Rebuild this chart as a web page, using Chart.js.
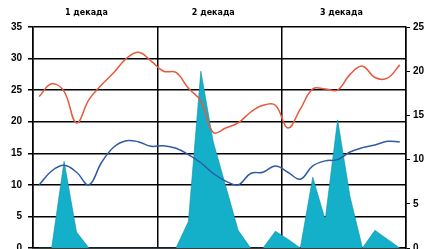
<!DOCTYPE html>
<html>
<head>
<meta charset="utf-8">
<script src="https://cdn.jsdelivr.net/npm/chart.js@4/dist/chart.umd.min.js"></script>
<style>
    html, body { margin: 0; padding: 0; background: #fff; overflow: hidden; }
    #wrap { width: 426px; height: 260px; position: relative; }
</style>
</head>
<body>
<div id="wrap"><canvas id="mainChart"></canvas></div>
<script>
// Data
const days = [1, 2, 3, 4, 5, 6, 7, 8, 9, 10, 11, 12, 13, 14, 15,
              16, 17, 18, 19, 20, 21, 22, 23, 24, 25, 26, 27, 28, 29, 30];
const redSeries = [24.0, 26.0, 24.8, 19.8, 23.5, 25.8, 27.8, 30.0, 31.0, 29.6,
                   28.0, 27.8, 25.3, 23.3, 18.3, 19.0, 19.8, 21.5, 22.6, 22.6,
                   19.0, 22.0, 25.2, 25.2, 25.0, 27.5, 28.8, 27.0, 26.9, 29.0];
const blueSeries = [10.0, 12.2, 13.1, 12.0, 10.0, 13.5, 16.0, 17.0, 16.8, 16.1,
                    16.2, 15.8, 14.8, 13.5, 11.8, 10.6, 10.0, 11.8, 12.0, 13.0,
                    12.0, 10.9, 13.0, 13.8, 14.0, 15.2, 15.9, 16.3, 16.9, 16.8];
const areaSeries = [0, 0, 9.8, 1.8, 0, 0, 0, 0, 0, 0,
                    0, 0, 3.0, 20.0, 12.0, 7.0, 2.0, 0, 0, 1.9,
                    1.0, 0, 8.0, 3.2, 14.5, 5.8, 0, 2.0, 1.0, 0];
const decadeLabels = ['1 декада', '2 декада', '3 декада'];
const decadeLabelPos = [4.8, 15.0, 25.3];
const decadeBounds = [0.5, 10.5, 20.5, 30.5];

const tickFont = { family: 'Liberation Sans, Arial, sans-serif', size: 10, weight: 'bold' };

function toPoints(values) {
    return days.map((d, i) => ({ x: d, y: values[i] }));
}

new Chart(document.getElementById('mainChart'), {
    type: 'line',
    data: {
        datasets: [
            {
                label: 'red',
                data: toPoints(redSeries),
                borderColor: '#e8583c',
                borderWidth: 1.5,
                pointRadius: 0,
                tension: 0.4,
                fill: false,
                yAxisID: 'y',
                order: 1
            },
            {
                label: 'blue',
                data: toPoints(blueSeries),
                borderColor: '#2f5aa6',
                borderWidth: 1.5,
                pointRadius: 0,
                tension: 0.4,
                fill: false,
                yAxisID: 'y',
                order: 2
            },
            {
                label: 'area',
                data: toPoints(areaSeries),
                borderColor: '#0b8fa6',
                backgroundColor: '#14b0c9',
                borderWidth: 0.6,
                pointRadius: 0,
                tension: 0,
                fill: 'origin',
                yAxisID: 'y2',
                order: 3
            }
        ]
    },
    options: {
        responsive: true,
        maintainAspectRatio: false,
        animation: false,
        layout: { padding: 0 },
        plugins: {
            legend: { display: false },
            tooltip: { enabled: false }
        },
        scales: {
            x: {
                type: 'linear',
                position: 'bottom',
                min: 0.5,
                max: 30.5,
                afterBuildTicks: s => { s.ticks = decadeBounds.map(v => ({ value: v })); },
                ticks: { display: false },
                grid: { color: '#000', lineWidth: 1.5, drawTicks: false },
                border: { color: '#000', width: 1.5 },
                afterFit: s => { s.height = 1; },
                z: 1
            },
            xTop: {
                type: 'linear',
                position: 'top',
                min: 0.5,
                max: 30.5,
                afterBuildTicks: s => { s.ticks = decadeLabelPos.map(v => ({ value: v })); },
                ticks: {
                    callback: (v, i) => decadeLabels[i],
                    font: { family: 'DejaVu Sans, sans-serif', size: 8, weight: 'bold' },
                    color: '#000',
                    padding: 9,
                    maxRotation: 0,
                    autoSkip: false
                },
                grid: { display: false, drawTicks: false },
                border: { display: false },
                afterFit: s => { s.height = 27; }
            },
            y: {
                position: 'left',
                min: 0,
                max: 35,
                ticks: { stepSize: 5, font: tickFont, color: '#000', padding: 6 },
                grid: { color: '#000', lineWidth: 1.5, tickLength: 5 },
                border: { color: '#000', width: 1.5 },
                afterFit: s => { s.width = 33; },
                z: 1
            },
            y2: {
                position: 'right',
                min: 0,
                max: 25,
                ticks: { stepSize: 5, font: tickFont, color: '#000', padding: 3 },
                grid: { drawOnChartArea: false, color: '#000', lineWidth: 1, tickLength: 4 },
                border: { color: '#000', width: 1.5 },
                afterFit: s => { s.width = 20; },
                z: 1
            }
        }
    }
});
</script>
</body>
</html>
